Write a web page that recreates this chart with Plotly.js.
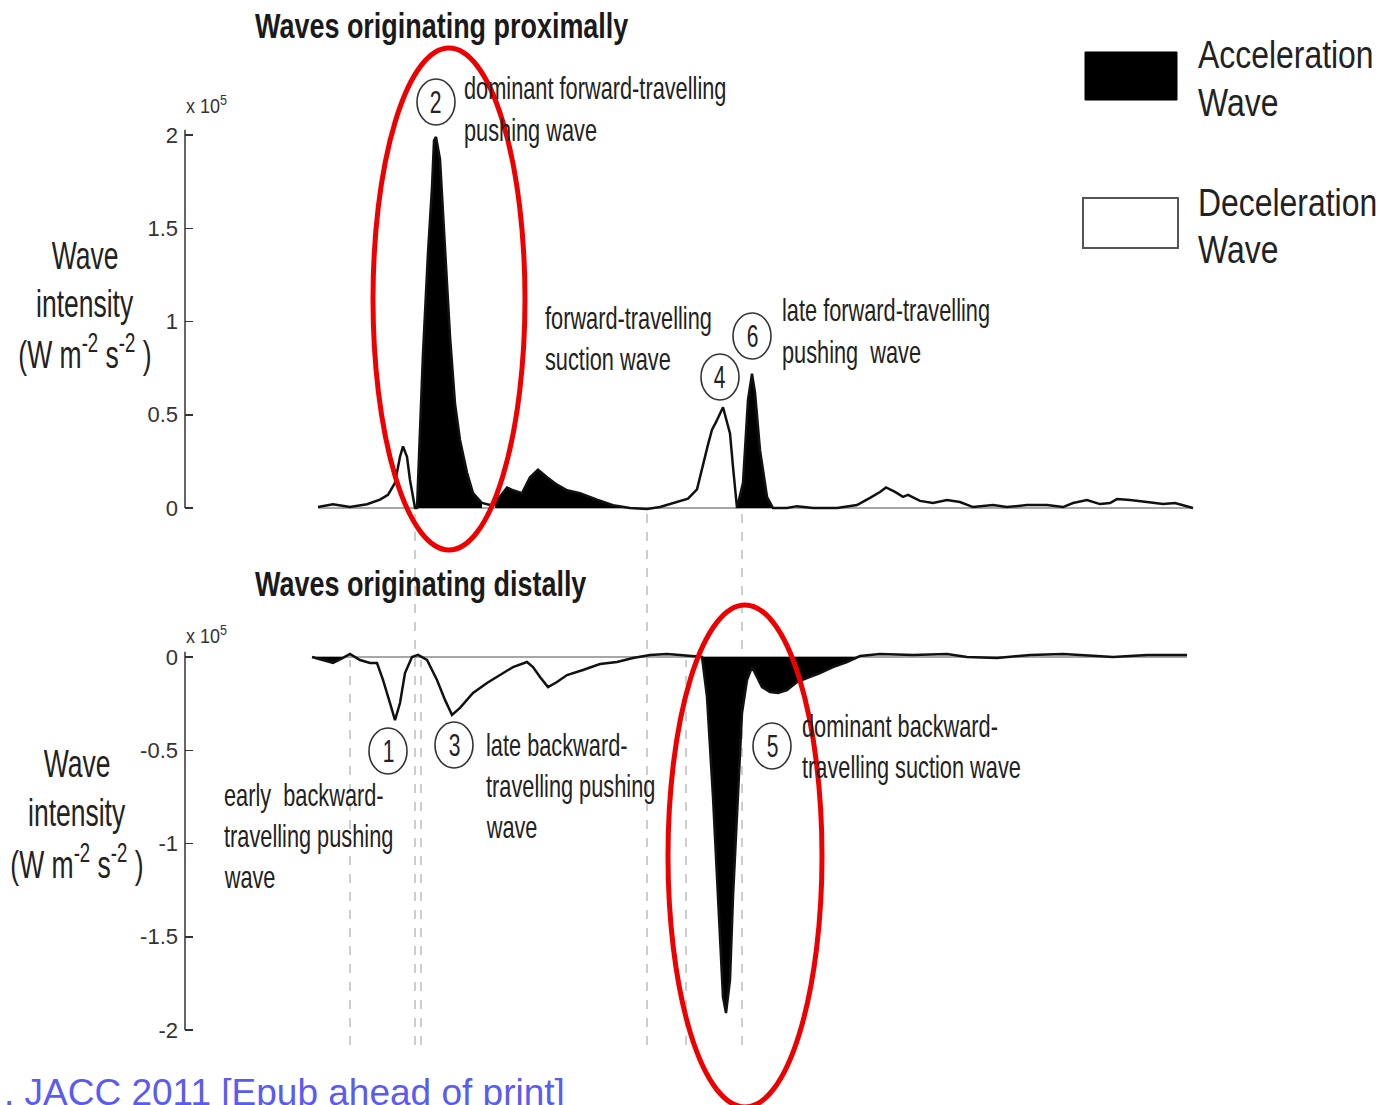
<!DOCTYPE html>
<html>
<head>
<meta charset="utf-8">
<script src="https://cdn.plot.ly/plotly-3.0.1.min.js"></script>
<style>
  html, body { margin: 0; padding: 0; background: #fff; }
  #chart { width: 1385px; height: 1105px; }
</style>
</head>
<body>
<div id="chart"></div>
<script>
// Coronary wave intensity over one cardiac cycle.
// Time in ms, wave intensity in units of 10^5 W m^-2 s^-2.

// Waves originating proximally (forward-travelling)
const tForward = [8,23,40,57,70,78,85,90,93,97,100,103,105,107,113,118,122,124,126,130,
  135,140,145,150,157,163,172,180,185,190,197,203,212,220,228,237,247,257,270,287,
  303,320,337,350,363,378,387,393,398,402,406,413,420,423,427,433,438,442,445,450,
  457,463,477,487,503,527,547,560,570,576,585,593,598,610,623,637,650,663,683,697,
  717,737,753,763,777,790,800,807,820,837,853,865,873,883];
const wiForward = [0.005,0.02,0.005,0.02,0.045,0.07,0.135,0.275,0.33,0.275,0.15,0.045,0,0,0.83,1.37,1.72,1.97,1.99,1.87,
  1.37,0.92,0.56,0.365,0.19,0.08,0.027,0.016,0.027,0.06,0.11,0.095,0.08,0.165,0.205,0.165,0.125,0.095,0.08,0.045,
  0.015,0,-0.005,0.005,0.027,0.05,0.1,0.24,0.34,0.42,0.46,0.54,0.40,0.22,0,0.135,0.58,0.72,0.62,0.31,
  0.06,0,0,0.01,0,0,0.016,0.054,0.086,0.11,0.086,0.06,0.07,0.038,0.027,0.043,0.032,0.005,0.016,0.005,
  0.016,0.016,0.005,0.027,0.043,0.021,0.027,0.048,0.043,0.032,0.021,0.027,0.016,0];

// Waves originating distally (backward-travelling)
const tBackward = [2,10,23,33,40,50,60,67,73,80,85,90,95,102,108,117,127,135,142,150,
  163,177,190,203,217,223,230,238,247,257,273,290,307,323,340,357,370,387,392,397,
  403,408,413,416,420,423,428,432,437,442,445,452,460,468,477,487,497,510,523,537,
  550,570,603,637,657,687,720,753,787,803,837,877];
const wiBackward = [0,-0.011,-0.032,-0.005,0.016,-0.016,-0.032,-0.032,-0.123,-0.247,
  -0.338,-0.247,-0.086,0,0.011,-0.016,-0.123,-0.23,-0.311,-0.273,
  -0.193,-0.139,-0.097,-0.054,-0.027,-0.054,-0.107,-0.161,-0.134,-0.097,
  -0.07,-0.038,-0.027,-0.005,0.011,0.016,0.011,0,0,-0.214,
  -0.75,-1.287,-1.823,-1.909,-1.732,-1.287,-0.75,-0.30,-0.123,-0.054,
  -0.086,-0.161,-0.188,-0.193,-0.177,-0.134,-0.113,-0.086,-0.054,-0.027,
  0.005,0.016,0.011,0.016,0,-0.005,0.011,0.016,0.005,0,0.011,0.011];

// Time windows of accelerating (filled) waves
const accelForward = [[105,175],[183,320],[427,463]];
const accelBackward = [[2,33],[392,552]];

// Timing markers (dashed)
const markersUpper = [105, 337, 432];
const markersLower = [40, 111, 376];

const yTicksTop = [0, 0.5, 1, 1.5, 2];
const yTickTextTop = ['0', '0.5', '1', '1.5', '2'];
const yTicksBottom = [0, -0.5, -1, -1.5, -2];
const yTickTextBottom = ['0', '-0.5', '-1', '-1.5', '-2'];

const W = 1385, H = 1105;
const X = v => v / W;
const Y = v => 1 - v / H;
const SANS = "'Liberation Sans', Arial, Helvetica, sans-serif";
const INK = '#222';

function fillTraces(t, v, windows, yaxis) {
  return windows.map(([a, b]) => {
    const xs = [], ys = [];
    t.forEach((ti, i) => { if (ti >= a && ti <= b) { xs.push(ti); ys.push(v[i]); } });
    return {
      x: xs, y: ys, yaxis: yaxis, type: 'scatter', mode: 'lines',
      fill: 'tozeroy', fillcolor: '#000', line: { width: 0, color: '#000' },
      hoverinfo: 'skip'
    };
  });
}

const traces = [
  ...fillTraces(tForward, wiForward, accelForward, 'y'),
  ...fillTraces(tBackward, wiBackward, accelBackward, 'y2'),
  { x: tForward, y: wiForward, yaxis: 'y', type: 'scatter', mode: 'lines',
    line: { color: '#111', width: 2.5 }, name: 'Forward' },
  { x: tBackward, y: wiBackward, yaxis: 'y2', type: 'scatter', mode: 'lines',
    line: { color: '#111', width: 2.5 }, name: 'Backward' }
];

const shapes = [];
// zero baselines
shapes.push({ type: 'line', xref: 'x', yref: 'y', x0: tForward[0], x1: tForward[tForward.length - 1], y0: 0, y1: 0,
  line: { color: '#8a8a8a', width: 1.5 }, layer: 'below' });
shapes.push({ type: 'line', xref: 'x', yref: 'y2', x0: tBackward[0], x1: tBackward[tBackward.length - 1], y0: 0, y1: 0,
  line: { color: '#8a8a8a', width: 1.5 }, layer: 'below' });
// axis lines
shapes.push({ type: 'line', xref: 'paper', yref: 'y', x0: X(185), x1: X(185), y0: 0, y1: 2.03,
  line: { color: '#333', width: 1.5 } });
shapes.push({ type: 'line', xref: 'paper', yref: 'y2', x0: X(185), x1: X(185), y0: -2.0, y1: 0.03,
  line: { color: '#333', width: 1.5 } });
// timing markers
markersUpper.forEach(t => shapes.push({ type: 'line', xref: 'x', yref: 'paper', x0: t, x1: t, y0: Y(1045), y1: Y(512),
  line: { color: '#bdbdbd', width: 1.5, dash: 'dash' }, layer: 'below' }));
markersLower.forEach(t => shapes.push({ type: 'line', xref: 'x', yref: 'paper', x0: t, x1: t, y0: Y(1045), y1: Y(660),
  line: { color: '#bdbdbd', width: 1.5, dash: 'dash' }, layer: 'below' }));

// numbered wave markers
const waveLabels = [
  { n: '2', x: 436, y: 102 }, { n: '6', x: 752, y: 336 }, { n: '4', x: 720, y: 377 },
  { n: '1', x: 388, y: 751 }, { n: '3', x: 454, y: 745 }, { n: '5', x: 772, y: 746 }
];
waveLabels.forEach(c => shapes.push({ type: 'circle', xref: 'paper', yref: 'paper',
  x0: X(c.x - 19), x1: X(c.x + 19), y0: Y(c.y + 23), y1: Y(c.y - 23),
  line: { color: '#333', width: 1.6 } }));

// highlight rings
shapes.push({ type: 'circle', xref: 'paper', yref: 'paper', x0: X(373), x1: X(525), y0: Y(550), y1: Y(48),
  line: { color: '#ee0000', width: 5 } });
shapes.push({ type: 'circle', xref: 'paper', yref: 'paper', x0: X(668), x1: X(822), y0: Y(1107), y1: Y(605),
  line: { color: '#ee0000', width: 5 } });

// legend swatches
shapes.push({ type: 'rect', xref: 'paper', yref: 'paper', x0: X(1085), x1: X(1177), y0: Y(100), y1: Y(52),
  fillcolor: '#000', line: { color: '#000', width: 1 } });
shapes.push({ type: 'rect', xref: 'paper', yref: 'paper', x0: X(1083), x1: X(1178), y0: Y(248), y1: Y(198),
  fillcolor: '#fff', line: { color: '#555', width: 2 } });

// annotations, each with a horizontal compression factor applied after drawing
const annotations = [];
const squeeze = [];
function text(str, x, y, size, opts = {}, sx = 1) {
  annotations.push(Object.assign({
    text: str, xref: 'paper', yref: 'paper', x: X(x), y: Y(y),
    xanchor: 'left', yanchor: 'middle', showarrow: false,
    font: { family: SANS, size: size, color: INK }
  }, opts));
  squeeze.push(sx);
}
function block(lines, x, y, dy, size, opts, sx) {
  lines.forEach((l, i) => text(l, x, y + i * dy, size, opts, sx));
}

const titleFont = { family: SANS, size: 35, color: '#1a1a1a' };
text('<b>Waves originating proximally</b>', 253, 25, 35, { font: titleFont }, 0.77);
text('<b>Waves originating distally</b>', 253, 583, 35, { font: titleFont }, 0.77);

const LBL = 32, LSX = 0.68;
block(['dominant forward-travelling', 'pushing wave'], 462, 88, 42, LBL, {}, LSX);
block(['forward-travelling', 'suction wave'], 543, 318, 41, LBL, {}, LSX);
block(['late forward-travelling', 'pushing  wave'], 780, 310, 42, LBL, {}, LSX);
block(['early  backward-', 'travelling pushing', 'wave'], 222, 795, 41, LBL, {}, LSX);
block(['late backward-', 'travelling pushing', 'wave'], 484, 745, 41, LBL, {}, LSX);
block(['dominant backward-', 'travelling suction wave'], 800, 726, 41, LBL, {}, LSX);

waveLabels.forEach(c => text(c.n, c.x, c.y, 31, { xanchor: 'center' }, 0.68));

// y-axis titles and scale factors
block(['Wave', 'intensity', '(W m<sup>-2</sup> s<sup>-2</sup> )'], 85, 255, 48, 39, { xanchor: 'center' }, 0.68);
block(['Wave', 'intensity', '(W m<sup>-2</sup> s<sup>-2</sup> )'], 77, 763, 49, 39, { xanchor: 'center' }, 0.68);
text('x 10<sup>5</sup>', 184, 104, 20, { font: { family: SANS, size: 20, color: '#333' } }, 0.9);
text('x 10<sup>5</sup>', 184, 634, 20, { font: { family: SANS, size: 20, color: '#333' } }, 0.9);

// legend labels
block(['Acceleration', 'Wave'], 1196, 55, 48, 38, {}, 0.84);
block(['Deceleration', 'Wave'], 1196, 203, 47, 38, {}, 0.84);

// source line
text('. JACC 2011 [Epub ahead of print]', 2, 1092, 37,
  { font: { family: SANS, size: 37, color: '#5a5cf0' } }, 1);

const axisCommon = {
  anchor: 'x', ticks: 'inside', ticklen: 8, tickwidth: 1.5, tickcolor: '#333',
  showgrid: false, zeroline: false, showline: false, fixedrange: true,
  ticklabelstandoff: 6,
  tickfont: { family: SANS, size: 22, color: '#333' }
};

const layout = {
  width: W, height: H,
  margin: { l: 0, r: 0, t: 0, b: 0 },
  paper_bgcolor: '#fff', plot_bgcolor: 'rgba(0,0,0,0)',
  showlegend: false,
  xaxis: { domain: [X(185), X(1200)], range: [-125, 890], visible: false, fixedrange: true },
  yaxis: Object.assign({}, axisCommon, {
    domain: [Y(513.6), Y(129.4)], range: [-0.03, 2.03],
    tickvals: yTicksTop, ticktext: yTickTextTop
  }),
  yaxis2: Object.assign({}, axisCommon, {
    domain: [Y(1035.6), Y(651.4)], range: [-2.03, 0.03],
    tickvals: yTicksBottom, ticktext: yTickTextBottom
  }),
  shapes: shapes,
  annotations: annotations
};

// Narrow the lettering horizontally, keeping each label's anchor edge in place.
function condense(gd) {
  gd.querySelectorAll('g.annotation').forEach(g => {
    const i = +g.getAttribute('data-index');
    const s = squeeze[i];
    if (!s || s === 1) return;
    const t = g.querySelector('text');
    if (!t) return;
    const bb = t.getBBox();
    const anchor = annotations[i].xanchor;
    const ox = anchor === 'center' ? bb.x + bb.width / 2 : (anchor === 'right' ? bb.x + bb.width : bb.x);
    const prev = t.getAttribute('transform') || '';
    t.setAttribute('transform', `${prev} translate(${ox},0) scale(${s},1) translate(${-ox},0)`.trim());
  });
}

Plotly.newPlot('chart', traces, layout, { displayModeBar: false, staticPlot: true })
  .then(gd => condense(gd));
</script>
</body>
</html>
